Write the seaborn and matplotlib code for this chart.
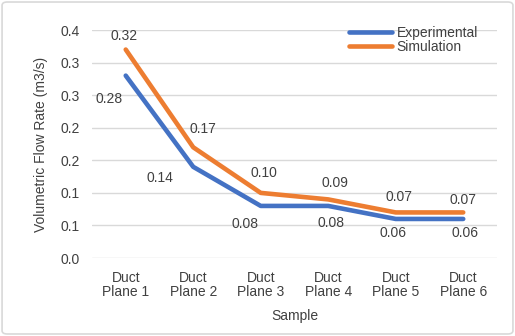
import matplotlib
matplotlib.use("Agg")
import matplotlib.pyplot as plt
import seaborn as sns
import pandas as pd
from matplotlib.patches import FancyBboxPatch

categories = ["Duct\nPlane 1", "Duct\nPlane 2", "Duct\nPlane 3",
              "Duct\nPlane 4", "Duct\nPlane 5", "Duct\nPlane 6"]
experimental = [0.28, 0.14, 0.08, 0.08, 0.06, 0.06]
simulation = [0.32, 0.17, 0.10, 0.09, 0.07, 0.07]
y_ticks = [0.0, 0.05, 0.10, 0.15, 0.20, 0.25, 0.30, 0.35]
y_tick_labels = ["0.0", "0.1", "0.1", "0.2", "0.2", "0.3", "0.3", "0.4"]

sns.set_style("white")
plt.rcParams['font.family'] = ['Liberation Sans', 'DejaVu Sans']

df = pd.DataFrame({
    "Sample": categories * 2,
    "Flow": experimental + simulation,
    "Series": ["Experimental"] * len(categories) + ["Simulation"] * len(categories),
})
df["x"] = list(range(len(categories))) * 2

FS = 10
TXT = "#404040"

fig = plt.figure(figsize=(5.15, 3.36), dpi=100)
ax = fig.add_axes([0.1786, 0.232, 0.965 - 0.1786, 0.9107 - 0.232])

palette = {"Experimental": "#4472C4", "Simulation": "#ED7D31"}
sns.lineplot(data=df, x="x", y="Flow", hue="Series", palette=palette,
             linewidth=3.3, ax=ax, legend=True, zorder=3)

ax.set_xlim(-0.5, len(categories) - 0.5)
ax.set_ylim(0, 0.35)
ax.set_yticks(y_ticks)
ax.set_yticklabels(y_tick_labels)
ax.set_xticks(range(len(categories)))
ax.set_xticklabels(categories, linespacing=1.05)
ax.tick_params(axis="both", length=0, labelsize=FS, colors=TXT)
ax.tick_params(axis="y", pad=9)
ax.tick_params(axis="x", pad=9)
ax.yaxis.grid(True, color="#D9D9D9", linewidth=1.0)
ax.set_axisbelow(True)
for s in ax.spines.values():
    s.set_visible(False)

ax.set_xlabel("Sample", fontsize=FS, color=TXT, labelpad=7)
ax.set_ylabel("Volumetric Flow Rate (m3/s)", fontsize=FS, color=TXT, labelpad=9)

# data labels
exp_offsets = [(-12, -17), (-24, -8), (-11, -13), (2, -12), (-2, -10), (1, -10)]
sim_offsets = [(-1, 10), (7, 13), (2, 14), (5, 12), (2, 11), (0, 9)]
for i, v in enumerate(experimental):
    ax.annotate(f"{v:.2f}", (i, v), xytext=exp_offsets[i], textcoords="offset points",
                ha="center", va="center", fontsize=FS, color=TXT, zorder=4)
for i, v in enumerate(simulation):
    ax.annotate(f"{v:.2f}", (i, v), xytext=sim_offsets[i], textcoords="offset points",
                ha="center", va="center", fontsize=FS, color=TXT, zorder=4)

leg = ax.legend(loc="upper right", bbox_to_anchor=(478 / 515, 1 - 26 / 336),
                bbox_transform=fig.transFigure, frameon=False,
                fontsize=FS, handlelength=3.1, handletextpad=0.3, labelspacing=0.0,
                borderaxespad=0, borderpad=0)
for t in leg.get_texts():
    t.set_color(TXT)
leg.set_zorder(5)

border = FancyBboxPatch((0.004, 0.006), 0.992, 0.988, boxstyle="round,pad=0,rounding_size=0.01",
                        transform=fig.transFigure, facecolor="none", edgecolor="#D9D9D9",
                        linewidth=1.2)
fig.patches.append(border)

fig.savefig("out.png", dpi=100)
